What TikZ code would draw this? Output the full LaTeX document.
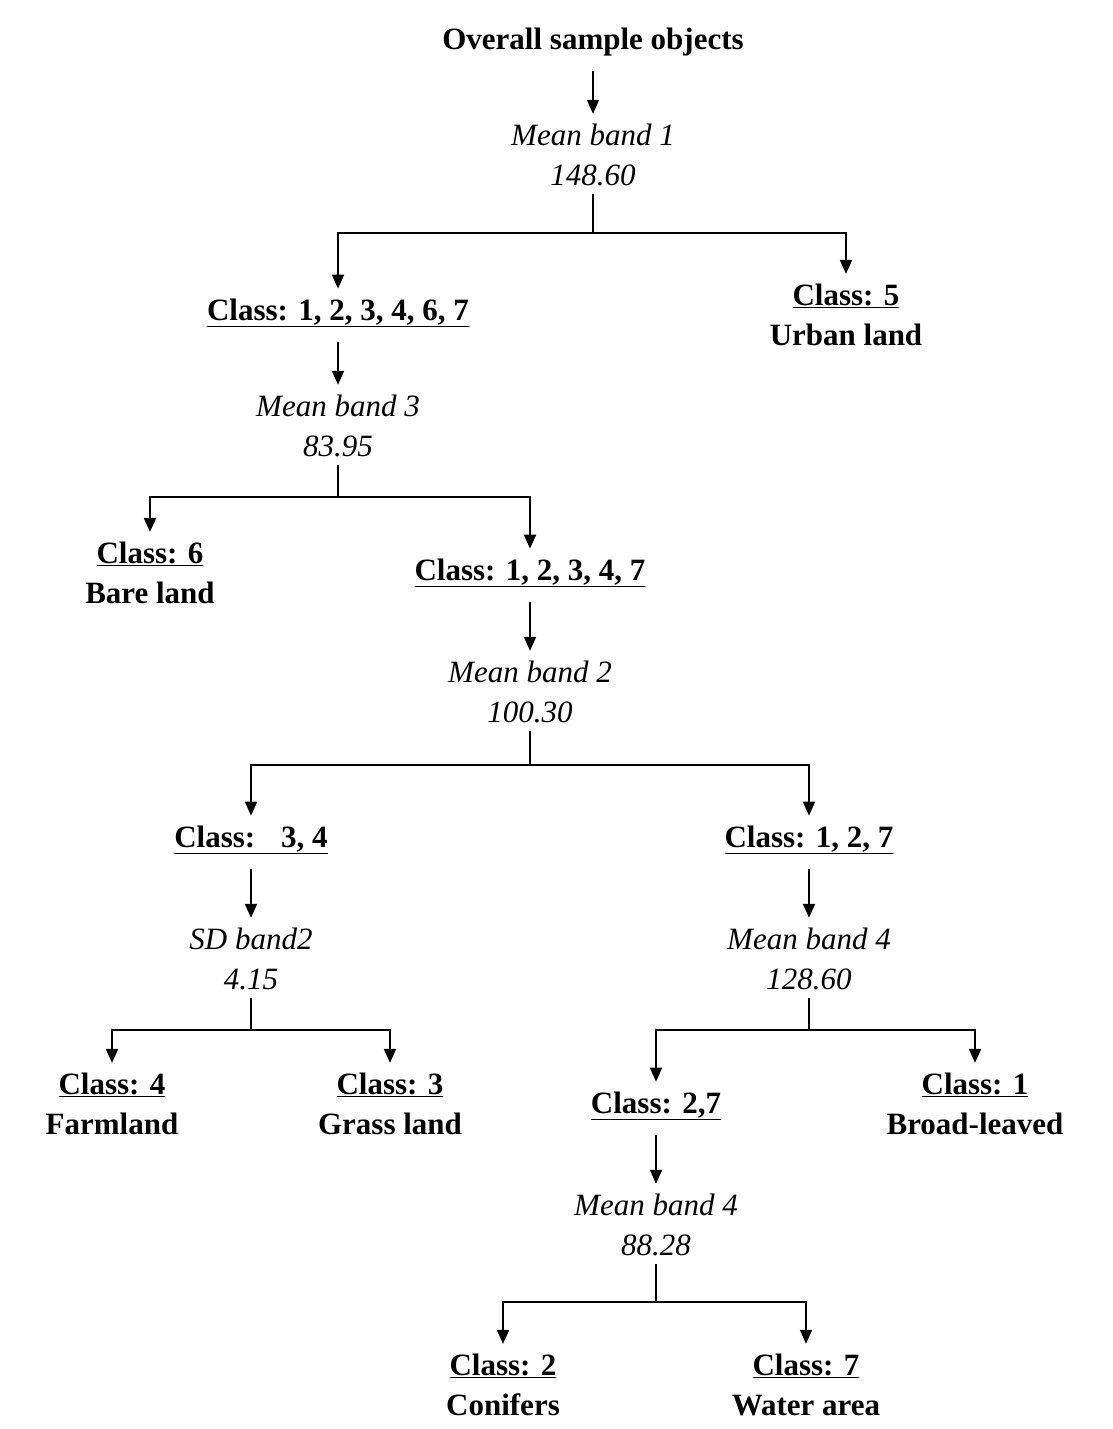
\documentclass[tikz,border=0pt]{standalone}
\usepackage{fontspec}
\setmainfont{Liberation Serif}
\usetikzlibrary{arrows.meta}
\begin{document}
\begin{tikzpicture}[x=1pt,y=-1pt,
  every node/.style={inner sep=0pt,align=center,font=\fontsize{31}{40}\selectfont},
  dec/.style={font=\fontsize{31}{40}\selectfont\itshape},
  cls/.style={font=\fontsize{31}{40}\selectfont\bfseries},
  line/.style={line width=1.9pt},
  arr/.style={line width=1.9pt,-{Triangle[width=12pt,length=14pt]}},
  into/.style={shorten >=10pt},
  from/.style={shorten <=15pt}]
\useasboundingbox (0,0) rectangle (1113,1429);
% nodes
\node[cls] (root) at (593,42) {Overall sample objects};
\node[dec] (d1) at (593,155) {Mean band 1\\148.60};
\node[cls] (c123467) at (338,313) {\underline{Class: 1, 2, 3, 4, 6, 7}};
\node[cls] (c5) at (846,315) {\underline{Class: 5}\\Urban land};
\node[dec] (d3) at (338,426) {Mean band 3\\83.95};
\node[cls] (c6) at (150,573) {\underline{Class: 6}\\Bare land};
\node[cls] (c12347) at (530,573) {\underline{Class: 1, 2, 3, 4, 7}};
\node[dec] (d2) at (530,692) {Mean band 2\\100.30};
\node[cls] (c34) at (251,840) {\underline{Class: \ \ 3, 4}};
\node[cls] (c127) at (809,840) {\underline{Class: 1, 2, 7}};
\node[dec] (dsd) at (251,959) {SD band2\\4.15};
\node[dec] (d4a) at (809,959) {Mean band 4\\128.60};
\node[cls] (c4) at (112,1104) {\underline{Class: 4}\\Farmland};
\node[cls] (c3) at (390,1104) {\underline{Class: 3}\\Grass land};
\node[cls] (c27) at (656,1106) {\underline{Class: 2,7}};
\node[cls] (c1) at (975,1104) {\underline{Class: 1}\\Broad-leaved};
\node[dec] (d4b) at (656,1225) {Mean band 4\\88.28};
\node[cls] (c2) at (503,1385) {\underline{Class: 2}\\Conifers};
\node[cls] (c7) at (806,1385) {\underline{Class: 7}\\Water area};
% junctions
\coordinate (j1) at (593,233);
\coordinate (j3) at (338,497);
\coordinate (j2) at (530,765);
\coordinate (jsd) at (251,1030);
\coordinate (j4a) at (809,1030);
\coordinate (j4b) at (656,1302);
% vertical arrows
\draw[arr,from,into] (root) -- (d1);
\draw[arr,from,into] (c123467) -- (d3);
\draw[arr,from,into] (c12347) -- (d2);
\draw[arr,from,into] (c34) -- (dsd);
\draw[arr,from,into] (c127) -- (d4a);
\draw[arr,from,into] (c27) -- (d4b);
% splits
\draw[line,shorten <=8pt] (d1) -- (j1);
\draw[arr,into] (j1) -| (c123467);
\draw[arr,into] (j1) -| (c5);
\draw[line,shorten <=8pt] (d3) -- (j3);
\draw[arr,into] (j3) -| (c6);
\draw[arr,into] (j3) -| (c12347);
\draw[line,shorten <=8pt] (d2) -- (j2);
\draw[arr,into] (j2) -| (c34);
\draw[arr,into] (j2) -| (c127);
\draw[line,shorten <=8pt] (dsd) -- (jsd);
\draw[arr,into] (jsd) -| (c4);
\draw[arr,into] (jsd) -| (c3);
\draw[line,shorten <=8pt] (d4a) -- (j4a);
\draw[arr,into] (j4a) -| (c27);
\draw[arr,into] (j4a) -| (c1);
\draw[line,shorten <=8pt] (d4b) -- (j4b);
\draw[arr,into] (j4b) -| (c2);
\draw[arr,into] (j4b) -| (c7);
\end{tikzpicture}
\end{document}
